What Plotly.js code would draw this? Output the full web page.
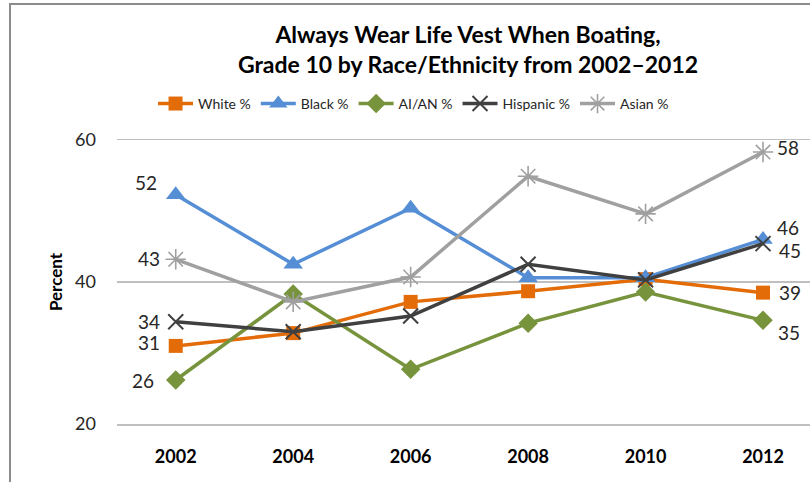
<!DOCTYPE html>
<html>
<head>
<meta charset="utf-8">
<script src="https://cdn.plot.ly/plotly-3.0.1.min.js"></script>
<style>
  html, body { margin: 0; padding: 0; background: #fff; }
  #wrap { position: relative; width: 810px; height: 482px; overflow: hidden; }
  #chart { width: 810px; height: 482px; }
  #frame { position: absolute; left: 9px; top: 3px; width: 900px; height: 600px;
           border-left: 2px solid #8C8C8C; border-top: 2px solid #8C8C8C; pointer-events: none; }
</style>
</head>
<body>
<div id="wrap"><div id="chart"></div><div id="frame"></div></div>
<script>
// ---- data ----
var years = [2002, 2004, 2006, 2008, 2010, 2012];
var seriesNames = ["White %", "Black %", "AI/AN %", "Hispanic %", "Asian %"];
var white    = [31.0, 32.8, 37.2, 38.7, 40.4, 38.5];
var black    = [52.3, 42.5, 50.4, 40.6, 40.6, 46.0];
var aian     = [26.2, 38.3, 27.7, 34.2, 38.6, 34.6];
var hispanic = [34.4, 33.0, 35.2, 42.5, 40.3, 45.4];
var asian    = [43.2, 37.2, 40.7, 54.9, 49.6, 58.3];
var yTicks = [20, 40, 60];

// ---- styles ----
var FONT = "Lato, 'Open Sans', sans-serif";
var styles = [
  {color: "#E36C09", symbol: "square",        size: 14, lw: 0,   lc: "#E36C09"},
  {color: "#558ED5", symbol: "triangle-up",   size: 17, lw: 0,   lc: "#558ED5"},
  {color: "#77933C", symbol: "diamond",       size: 15, lw: 0,   lc: "#77933C"},
  {color: "#404040", symbol: "x-thin-open",   size: 15, lw: 2,   lc: "#404040"},
  {color: "#A0A0A0", symbol: "asterisk-open", size: 17, lw: 1.6, lc: "#A0A0A0"}
];
var values = [white, black, aian, hispanic, asian];

var traces = values.map(function (v, i) {
  var s = styles[i];
  return {
    x: years, y: v, name: seriesNames[i], type: "scatter", mode: "lines+markers",
    line: {color: s.color, width: 3.5},
    marker: {symbol: s.symbol, size: s.size, color: s.color,
             line: {width: s.lw, color: s.lc}},
    cliponaxis: false
  };
});

// label offsets (first point, last point) in pixels
var offs = [
  [[-27, 3], [27, 0]],
  [[-30, 12], [25, 12]],
  [[-33, -1], [26, -12]],
  [[-27, 0], [27, -7]],
  [[-27, 1], [25, 5]]
];
var annotations = [];
values.forEach(function (v, i) {
  [0, v.length - 1].forEach(function (idx, k) {
    annotations.push({
      x: years[idx], y: v[idx], xref: "x", yref: "y",
      text: String(Math.round(v[idx])), showarrow: false,
      xshift: offs[i][k][0], yshift: offs[i][k][1],
      font: {family: FONT, size: 19, color: "#262626"}
    });
  });
});

var layout = {
  width: 810, height: 482,
  margin: {l: 117, r: 0, t: 140, b: 58},
  paper_bgcolor: "#fff", plot_bgcolor: "#fff",
  title: {
    text: "<b>Always Wear Life Vest When Boating,<br>Grade 10 by Race/Ethnicity from 2002\u20132012</b>",
    font: {family: FONT, size: 23, color: "#000"},
    x: 0.5065, xanchor: "center", y: 0.91, yanchor: "middle", xref: "paper", yref: "container"
  },
  showlegend: true,
  legend: {
    orientation: "h", x: 0.052, xanchor: "left", y: 1.127, yanchor: "middle",
    font: {family: FONT, size: 14, color: "#262626"},
    itemwidth: 35, tracegroupgap: 0
  },
  xaxis: {
    range: [2001, 2012.8], tickvals: years, ticktext: years.map(String),
    showgrid: false, zeroline: false, showline: true, mirror: true,
    linecolor: "#BFBFBF", linewidth: 1.5, ticks: "", ticklabelstandoff: 16,
    tickfont: {family: FONT, size: 18, color: "#000", weight: "bold"},
    fixedrange: true
  },
  yaxis: {
    range: [20, 60], tickvals: yTicks, showgrid: true, gridcolor: "#BFBFBF", gridwidth: 1.5,
    zeroline: false, showline: false, ticks: "", ticklabelstandoff: 20,
    tickfont: {family: FONT, size: 18, color: "#262626"},
    title: {text: "<b>Percent</b>", font: {family: FONT, size: 17, color: "#000"}, standoff: 8},
    fixedrange: true
  },
  annotations: annotations
};

Plotly.newPlot("chart", traces, layout, {displayModeBar: false, staticPlot: true});
</script>
</body>
</html>
